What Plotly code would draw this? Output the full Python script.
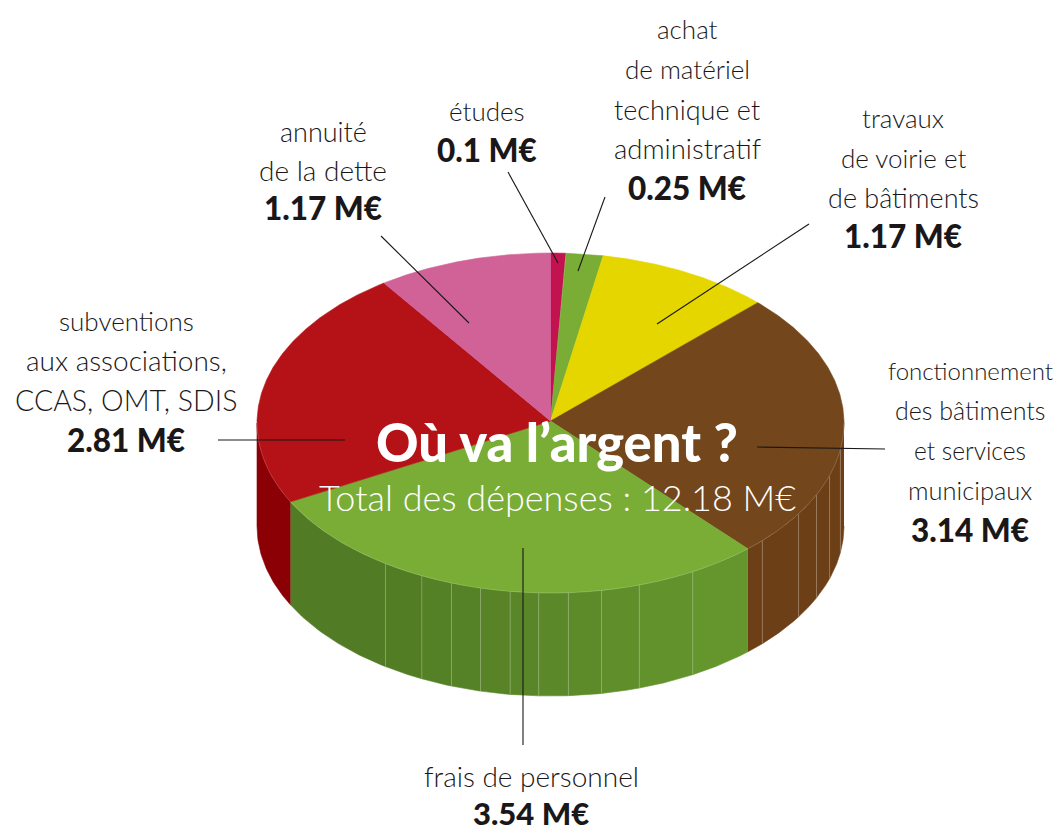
import numpy as np
import plotly.graph_objects as go

# ---- data (clockwise from the top of the pie) ----
categories = ["études", "achat de matériel technique et administratif", "travaux de voirie et de bâtiments",
              "fonctionnement des bâtiments et services municipaux", "frais de personnel",
              "subventions aux associations, CCAS, OMT, SDIS", "annuité de la dette"]
values = [0.1, 0.25, 1.17, 3.14, 3.54, 2.81, 1.17]
top_colors = ["#c2124f", "#79ad36", "#e5d600", "#74461c", "#79ad36", "#b41217", "#d16297"]
side_dark = ["#9c0e3f", "#557d25", "#b5a900", "#6c3f17", "#517b24", "#8b0005", "#a84d78"]
side_light = ["#9c0e3f", "#557d25", "#b5a900", "#6c3f17", "#67992f", "#8b0005", "#a84d78"]
facet_angles = [99, 108, 115, 122.3, 133.8, 151, 162.4, 170, 176.5, 182.3, 187.9, 193.8, 199.7, 206, 214.2]

labels = [
    (["annuité", "de la dette"], "1.17 M€", 323, [131, 170, 208]),
    (["études"], "0.1 M€", 487, [111, 150]),
    (["achat", "de matériel", "technique et", "administratif"], "0.25 M€", 687, [29, 69, 109, 148, 188]),
    (["travaux", "de voirie et", "de bâtiments"], "1.17 M€", 903, [118, 158, 197, 236]),
    (["subventions", "aux associations,", "CCAS, OMT, SDIS"], "2.81 M€", 126, [321, 360, 400, 440]),
    (["fonctionnement", "des bâtiments", "et services", "municipaux"], "3.14 M€", 970, [370, 410, 450, 490, 530]),
    (["frais de personnel"], "3.54 M€", 531, [776, 813]),
]
line_sizes = {"fonctionnement": 24, "des bâtiments": 25, "et services": 24.5, "municipaux": 25.5,
              "aux associations,": 28, "CCAS, OMT, SDIS": 28.5, "frais de personnel": 28,
              "de la dette": 28, "technique et": 27, "de bâtiments": 27, "administratif": 27.5,
              "de voirie et": 26, "annuité": 27, "achat": 26}
leaders = [((508, 172), (558, 263)), ((605, 197), (578, 271)), ((809, 224), (657, 324)),
           ((381, 236), (469, 323)), ((218, 440), (345, 440)), ((757, 447), (885, 449)),
           ((523, 548), (523, 745))]
title_main = "Où va l’argent ?"
title_sub = "Total des dépenses : 12.18 M€"

# ---- projection of the pie ----
CX, CY, RX, RY, DEPTH = 550.5, 423, 293.5, 170, 103
FONT = "Lato"
INK = "#1a1718"


def px(a):
    return CX + RX * np.sin(np.radians(a))


def py(a):
    return CY - RY * np.cos(np.radians(a))


def mix(c1, c2, t):
    a = [int(c1[i:i + 2], 16) for i in (1, 3, 5)]
    b = [int(c2[i:i + 2], 16) for i in (1, 3, 5)]
    return "#" + "".join(f"{round(p + (q - p) * t):02x}" for p, q in zip(a, b))


edges = np.concatenate([[0], np.cumsum(values)]) / sum(values) * 360
fig = go.Figure()


def poly(x, y, color):
    fig.add_trace(go.Scatter(x=x, y=y, mode="lines", fill="toself", fillcolor=color,
                             line=dict(color=color, width=0.6), hoverinfo="skip", showlegend=False))


# side wall, faceted, visible half only
for i in range(len(values)):
    lo, hi = max(edges[i], 90), min(edges[i + 1], 270)
    if lo >= hi:
        continue
    cuts = [lo] + [f for f in facet_angles if lo < f < hi] + [hi]
    for a, b in zip(cuts[:-1], cuts[1:]):
        t = np.clip((edges[i + 1] - 28 - (a + b) / 2) / (edges[i + 1] - edges[i] - 28), 0, 1)
        col = mix(side_dark[i], side_light[i], t)
        ang = np.linspace(a, b, 40)
        xs = px(ang)
        ys = py(ang)
        poly(np.r_[xs, xs[::-1]], np.r_[ys, ys[::-1] + DEPTH], col)
        if a != lo:
            fig.add_trace(go.Scatter(x=[px(a), px(a)], y=[py(a), py(a) + DEPTH], mode="lines",
                                     line=dict(color="rgba(255,255,255,0.22)", width=1),
                                     hoverinfo="skip", showlegend=False))

# top face
for i in range(len(values)):
    ang = np.linspace(edges[i], edges[i + 1], 200)
    poly(np.r_[CX, px(ang), CX], np.r_[CY - 2, py(ang), CY - 2], top_colors[i])

# front rim highlight
rim = np.linspace(90, 270, 300)
fig.add_trace(go.Scatter(x=px(rim), y=py(rim), mode="lines", line=dict(color="rgba(255,255,255,0.2)", width=0.7),
                         hoverinfo="skip", showlegend=False))

# leader lines
for (x0, y0), (x1, y1) in leaders:
    fig.add_trace(go.Scatter(x=[x0, x1], y=[y0, y1], mode="lines", line=dict(color=INK, width=1.1),
                             hoverinfo="skip", showlegend=False))

annotations = []


def text(x, y, s, size, weight, color=INK, **extra):
    annotations.append(dict(x=x, y=y, xref="x", yref="y", text=s, showarrow=False, xanchor="center",
                            yanchor="middle", font=dict(family=FONT, size=size, color=color, weight=weight),
                            **extra))


for lines, amount, x, ys in labels:
    for s, y in zip(lines, ys[:-1]):
        text(x, y, s, line_sizes.get(s, 26), 300)
    if ys[-1] > 800:
        text(x, ys[-1], amount, 31, 900, height=28)
    else:
        text(x, ys[-1], amount, 31.5, 900)

text(557, 441, title_main, 52.5, 900, "white")
text(557, 497, title_sub, 36, 300, "white")

fig.update_layout(
    width=1059, height=828, margin=dict(l=0, r=0, t=0, b=0),
    paper_bgcolor="white", plot_bgcolor="white", showlegend=False,
    xaxis=dict(range=[0, 1059], visible=False, fixedrange=True),
    yaxis=dict(range=[828, 0], visible=False, fixedrange=True),
    annotations=annotations,
)
fig.write_html("out.html", config={"displayModeBar": False},
               post_script="document.body.style.margin='0';document.body.style.overflow='hidden';")
